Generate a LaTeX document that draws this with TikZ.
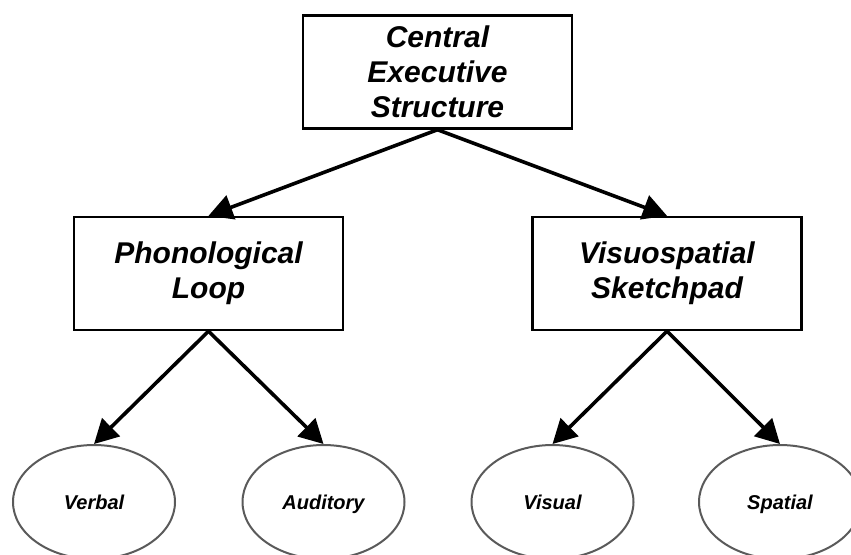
\documentclass[tikz,border=0pt]{standalone}
\usepackage{fontspec}
\setmainfont{Liberation Sans}
\usetikzlibrary{shapes.geometric,arrows.meta}
\definecolor{ovalgray}{RGB}{90,90,90}
\tikzset{
  compbox/.style={draw=black,line width=1.2pt,minimum width=134.5pt,minimum height=56.5pt,
    align=center,inner sep=0pt,font=\fontsize{15}{17.5}\selectfont\bfseries\itshape},
  subcomp/.style={ellipse,draw=ovalgray,line width=1pt,minimum width=81pt,minimum height=57pt,
    inner sep=0pt,text height=7.2pt,text depth=0pt,font=\fontsize{10}{12}\selectfont\bfseries\itshape},
  link/.style={line width=1.8pt,-{Triangle[length=12pt,width=12.5pt]}}
}

\begin{document}
\begin{tikzpicture}[x=0.5pt,y=-0.5pt]
        \useasboundingbox (0,0) rectangle (851,554);
        % components
        \node[compbox] (ces) at (437.5,72) {Central\\Executive\\Structure};
        \node[compbox] (phon) at (208.5,273.5) {Phonological\\Loop};
        \node[compbox] (visuo) at (667,273.5) {Visuospatial\\Sketchpad};
        % sub-components
        \node[subcomp] (verbal) at (94,502) {Verbal};
        \node[subcomp] (audit) at (323.5,502) {Auditory};
        \node[subcomp] (visual) at (552.5,502) {Visual};
        \node[subcomp] (spatial) at (780,502) {Spatial};
        % links
        \draw[link] (ces.south) -- (phon.north);\draw[link] (ces.south) -- (visuo.north);
        \draw[link] (phon.south) -- (verbal.north);\draw[link] (phon.south) -- (audit.north);
        \draw[link] (visuo.south) -- (visual.north);\draw[link] (visuo.south) -- (spatial.north);
      \end{tikzpicture}
\end{document}
